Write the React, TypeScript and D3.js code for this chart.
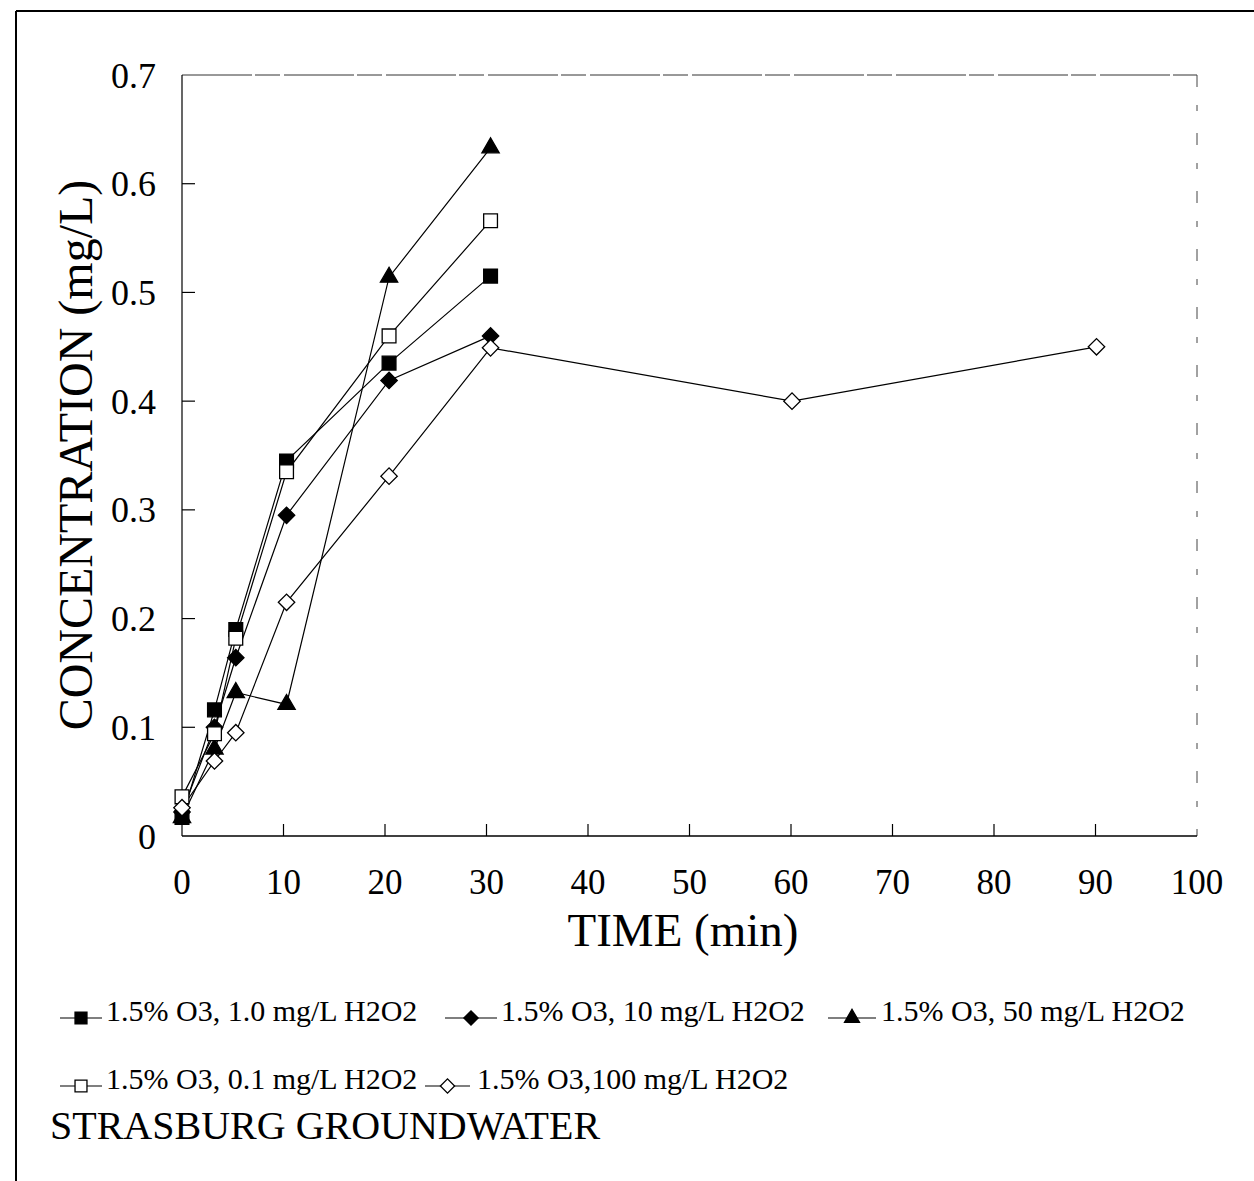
import React from "react";
import * as d3 from "d3";

const xTicks = [0, 10, 20, 30, 40, 50, 60, 70, 80, 90, 100];
const yTicks = [0, 0.1, 0.2, 0.3, 0.4, 0.5, 0.6, 0.7];
const timesShort = [0, 3.2, 5.3, 10.3, 20.4, 30.4];
const timesLong = [0, 3.2, 5.3, 10.3, 20.4, 30.4, 60.1, 90.1];
const s1Values = [0.017, 0.116, 0.19, 0.345, 0.435, 0.515];
const s2Values = [0.022, 0.1, 0.164, 0.295, 0.419, 0.46];
const s3Values = [0.017, 0.08, 0.132, 0.121, 0.514, 0.633];
const s4Values = [0.036, 0.094, 0.182, 0.335, 0.46, 0.566];
const s5Values = [0.026, 0.069, 0.095, 0.215, 0.331, 0.449, 0.4, 0.45];
const seriesLabels = [
  "1.5% O3, 1.0 mg/L H2O2",
  "1.5% O3, 10 mg/L H2O2",
  "1.5% O3, 50 mg/L H2O2",
  "1.5% O3, 0.1 mg/L H2O2",
  "1.5% O3,100 mg/L H2O2",
];
const seriesMarkers = ["square", "diamond", "triangle", "square", "diamond"];
const seriesFilled = [true, true, true, false, false];

const FONT = "'Liberation Serif', 'Times New Roman', serif";

function markerPath(kind: string, scale: number) {
  if (kind === "square") return d3.symbol(d3.symbolSquare, 190 * scale)()!;
  if (kind === "diamond") return d3.symbol(d3.symbolSquare, 135 * scale)()!;
  return d3.symbol(d3.symbolTriangle, 130 * scale)()!;
}

function Marker({ kind, filled, x, y, scale = 1 }: any) {
  const rot = kind === "diamond" ? 45 : 0;
  return (
    <path
      d={markerPath(kind, scale)}
      transform={`translate(${x},${y}) rotate(${rot})`}
      fill={filled ? "#000" : "#fff"}
      stroke="#000"
      strokeWidth={1.3}
    />
  );
}

export default function App() {
  const W = 1254;
  const H = 1181;
  const x = d3.scaleLinear().domain([0, 100]).range([182, 1197]);
  const y = d3.scaleLinear().domain([0, 0.7]).range([836, 75]);

  const series = [
    { t: timesShort, v: s1Values },
    { t: timesShort, v: s2Values },
    { t: timesShort, v: s3Values },
    { t: timesShort, v: s4Values },
    { t: timesLong, v: s5Values },
  ];
  const line = d3
    .line<[number, number]>()
    .x((d) => x(d[0]))
    .y((d) => y(d[1]));

  const legendItems = [
    { idx: 0, lx: 60, lx2: 102, tx: 106, y: 1010 },
    { idx: 1, lx: 445, lx2: 497, tx: 501, y: 1010 },
    { idx: 2, lx: 828, lx2: 876, tx: 881, y: 1010 },
    { idx: 3, lx: 60, lx2: 102, tx: 106, y: 1078 },
    { idx: 4, lx: 425, lx2: 470, tx: 477, y: 1078 },
  ];

  return (
    <svg width={W} height={H} style={{ position: "absolute", left: 0, top: 0, background: "#fff" }}>
      <rect x={0} y={0} width={W} height={H} fill="#fff" />
      {/* outer frame */}
      <line x1={16} y1={11} x2={W} y2={11} stroke="#000" strokeWidth={2} />
      <line x1={16} y1={11} x2={16} y2={H} stroke="#000" strokeWidth={2} />

      {/* plot frame top/right (faint, broken) */}
      <line x1={x(0)} y1={y(0.7)} x2={x(100)} y2={y(0.7)} stroke="#333" strokeWidth={1} strokeDasharray="70 3 25 4" />
      <line x1={x(100)} y1={y(0.7)} x2={x(100)} y2={y(0)} stroke="#444" strokeWidth={1} strokeDasharray="12 18 6 22" />
      {/* axes */}
      <line x1={x(0)} y1={y(0.7)} x2={x(0)} y2={y(0)} stroke="#000" strokeWidth={1.2} />
      <line x1={x(0)} y1={y(0)} x2={x(100)} y2={y(0)} stroke="#000" strokeWidth={1.5} />

      {yTicks.map((t) => (
        <g key={"y" + t}>
          {t > 0 && t < 0.7 && (
            <line x1={x(0)} x2={x(0) + 13} y1={y(t)} y2={y(t)} stroke="#000" strokeWidth={1.2} />
          )}
          <text
            x={156}
            y={y(t)}
            dy="0.35em"
            textAnchor="end"
            fontFamily={FONT}
            fontSize={36}
            fill="#000"
          >
            {t === 0 ? "0" : t.toFixed(1)}
          </text>
        </g>
      ))}
      {xTicks.map((t) => (
        <g key={"x" + t}>
          {t > 0 && t < 100 && (
            <line x1={x(t)} x2={x(t)} y1={y(0)} y2={y(0) - 12} stroke="#000" strokeWidth={1.2} />
          )}
          <text x={x(t)} y={894} textAnchor="middle" fontFamily={FONT} fontSize={35} fill="#000">
            {t}
          </text>
        </g>
      ))}

      <text x={683} y={946} textAnchor="middle" fontFamily={FONT} fontSize={47} fill="#000">
        TIME (min)
      </text>
      <text
        transform={`translate(92,455) rotate(-90)`}
        textAnchor="middle"
        fontFamily={FONT}
        fontSize={48}
        fill="#000"
      >
        CONCENTRATION (mg/L)
      </text>

      {/* lines */}
      {series.map((s, i) => (
        <path
          key={"l" + i}
          d={line(s.t.map((t, j) => [t, s.v[j]] as [number, number]))!}
          fill="none"
          stroke="#000"
          strokeWidth={1.2}
        />
      ))}
      {/* markers */}
      {series.map((s, i) =>
        s.t.map((t, j) => (
          <Marker
            key={"m" + i + "-" + j}
            kind={seriesMarkers[i]}
            filled={seriesFilled[i]}
            x={x(t)}
            y={y(s.v[j])}
          />
        ))
      )}

      {/* legend */}
      {legendItems.map((it) => (
        <g key={"lg" + it.idx}>
          <line x1={it.lx} x2={it.lx2} y1={it.y + 8} y2={it.y + 8} stroke="#000" strokeWidth={1.2} />
          <Marker
            kind={seriesMarkers[it.idx]}
            filled={seriesFilled[it.idx]}
            x={(it.lx + it.lx2) / 2}
            y={it.y + 8}
            scale={0.75}
          />
          <text x={it.tx} y={it.y + 11} fontFamily={FONT} fontSize={30} fill="#000">
            {seriesLabels[it.idx]}
          </text>
        </g>
      ))}
      <text x={50} y={1139} fontFamily={FONT} fontSize={40} fill="#000">
        STRASBURG GROUNDWATER
      </text>
    </svg>
  );
}
